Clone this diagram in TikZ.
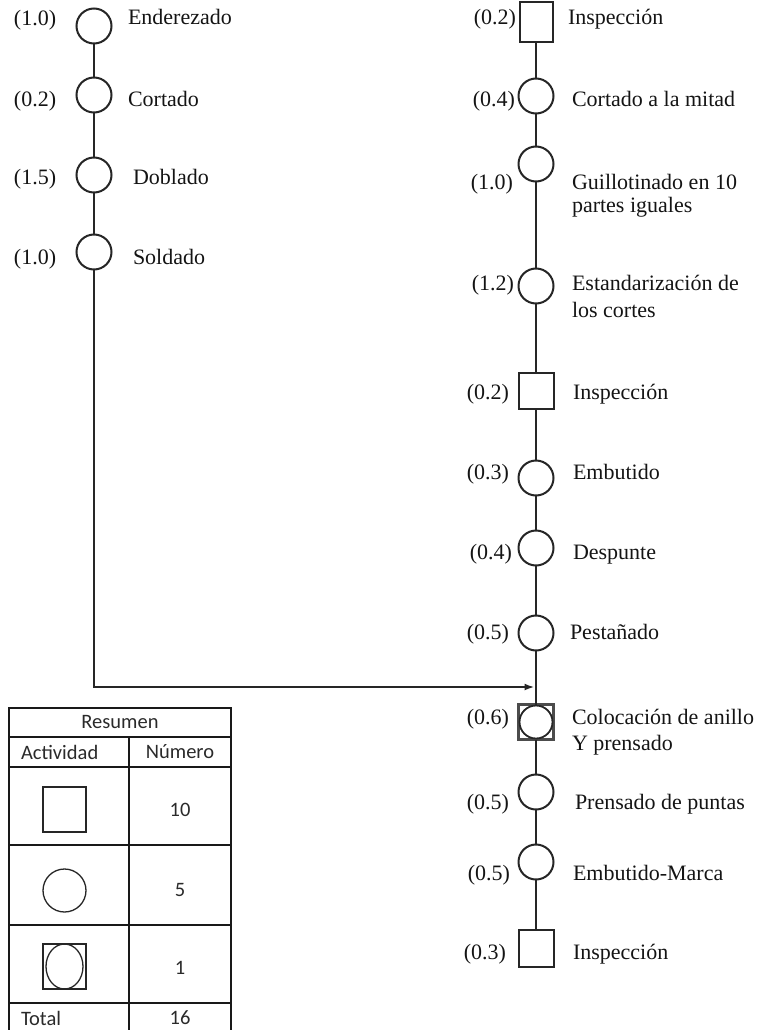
\documentclass[tikz,border=0pt]{standalone}
\usepackage{fontspec}
\setmainfont{Liberation Serif}
\newfontfamily\tabfont{Carlito}
\usetikzlibrary{arrows.meta}
\definecolor{ink}{HTML}{141414}
\definecolor{stroke}{HTML}{262626}
\definecolor{tabink}{HTML}{2A2A2A}
\begin{document}
\begin{tikzpicture}[x=1pt,y=-1pt,
  every node/.style={inner sep=0pt, outer sep=0pt},
  opcircle/.style={draw=stroke, line width=2pt, circle, minimum size=35pt},
  inspbox/.style={draw=stroke, line width=2pt, rectangle, minimum width=35pt, minimum height=36pt},
  combobox/.style={draw=black!70, line width=2.6pt, rectangle, minimum width=35pt, minimum height=35pt},
  flow/.style={draw=stroke, line width=2pt},
  lbl/.style={anchor=base west, text=ink, font=\fontsize{22}{25}\selectfont},
  num/.style={anchor=base east, text=ink, font=\fontsize{22}{25}\selectfont},
  lnum/.style={anchor=base, text=ink, font=\fontsize{22}{25}\selectfont},
  tabline/.style={draw=black!90, line width=1.6pt},
  tabtxt/.style={text=tabink, font=\tabfont\fontsize{20.5}{24}\selectfont},
  tabsym/.style={draw=black!85, line width=1.3pt}
]
\useasboundingbox (0,0) rectangle (763,1030);

% ---- left branch ----
\node[opcircle, minimum width=33pt] (l1) at (94,26) {};
\node[opcircle, minimum width=33pt] (l2) at (94,95) {};
\node[opcircle, minimum width=33pt] (l3) at (94,175) {};
\node[opcircle, minimum width=33pt] (l4) at (94,252) {};
\node[lnum] (ln1) at (35,26) {(1.0)};
\node[lnum] (ln2) at (35,107) {(0.2)};
\node[lnum] (ln3) at (35,184) {(1.5)};
\node[lnum] (ln4) at (35,264) {(1.0)};
\node[lbl] (lt1) at (128,25) {Enderezado};
\node[lbl] (lt2) at (128,107) {Cortado};
\node[lbl] (lt3) at (133,184) {Doblado};
\node[lbl] (lt4) at (133,264) {Soldado};

% ---- main branch ----
\node[inspbox, minimum width=33pt, minimum height=40pt] (r1) at (536,22.5) {};
\node[opcircle] (r2) at (536,96) {};
\node[opcircle] (r3) at (536,164) {};
\node[opcircle] (r4) at (536,286) {};
\node[inspbox] (r5) at (536,391) {};
\node[opcircle] (r6) at (536,478) {};
\node[opcircle] (r7) at (536,548) {};
\node[opcircle] (r8) at (536,633) {};
\node[combobox] (r9) at (536,722) {};
\node[opcircle, minimum size=33pt, line width=1.8pt] (r9c) at (r9) {};
\node[opcircle] (r10) at (536,792) {};
\node[opcircle] (r11) at (536,862) {};
\node[inspbox, minimum height=37pt] (r12) at (536,948) {};

\node[num] (rn1) at (516,25) {(0.2)};
\node[num] (rn2) at (515,107) {(0.4)};
\node[num] (rn3) at (513,189) {(1.0)};
\node[num] (rn4) at (514,290) {(1.2)};
\node[num] (rn5) at (509,399) {(0.2)};
\node[num] (rn6) at (509,479) {(0.3)};
\node[num] (rn7) at (512,559) {(0.4)};
\node[num] (rn8) at (509,639) {(0.5)};
\node[num] (rn9) at (509,724) {(0.6)};
\node[num] (rn10) at (509,809) {(0.5)};
\node[num] (rn11) at (510,880) {(0.5)};
\node[num] (rn12) at (506,959) {(0.3)};

\node[lbl] (rt1) at (568,25) {Inspección};
\node[lbl] (rt2) at (572,107) {Cortado a la mitad};
\node[lbl] (rt3) at (572,189) {\begin{tabular}[t]{@{}l@{}}Guillotinado en 10\\[-2pt]partes iguales\end{tabular}};
\node[lbl] (rt4) at (572,290) {\begin{tabular}[t]{@{}l@{}}Estandarización de\\[2pt]los cortes\end{tabular}};
\node[lbl] (rt5) at (573,399) {Inspección};
\node[lbl] (rt6) at (573,479) {Embutido};
\node[lbl] (rt7) at (573,559) {Despunte};
\node[lbl] (rt8) at (570,639) {Pestañado};
\node[lbl] (rt9) at (572,724) {\begin{tabular}[t]{@{}l@{}}Colocación de anillo\\[1pt]Y prensado\end{tabular}};
\node[lbl] (rt10) at (575,809) {Prensado de puntas};
\node[lbl] (rt11) at (573,880) {Embutido-Marca};
\node[lbl] (rt12) at (573,959) {Inspección};

% ---- connectors ----
\draw[flow] (l1) -- (l2);
\draw[flow] (l2) -- (l3);
\draw[flow] (l3) -- (l4);
\coordinate (join) at (536,687);
\draw[flow, -{Latex[length=10pt,width=7pt]}, shorten >=1.5pt] (l4) |- (join);

\draw[flow] (r1) -- (r2);
\draw[flow] (r2) -- (r3);
\draw[flow] (r3) -- (r4);
\draw[flow] (r4) -- (r5);
\draw[flow] (r5) -- (r6);
\draw[flow] (r6) -- (r7);
\draw[flow] (r7) -- (r8);
\draw[flow] (r8) -- (r9);
\draw[flow] (r9) -- (r10);
\draw[flow] (r10) -- (r11);
\draw[flow] (r11) -- (r12);

% ---- summary table ----
\draw[tabline] (9,1031) -- (9,708) -- (231,708) -- (231,1031);
\foreach \yy in {737,767,845,925,1003} \draw[tabline] (9,\yy) -- (231,\yy);
\draw[tabline] (129,737) -- (129,1031);

\node[tabtxt] (hres) at (120,722) {Resumen};
\node[tabtxt, anchor=west] (hact) at (21,752) {Actividad};
\node[tabtxt] (hnum) at (180,752) {Número};

\node[tabsym, rectangle, minimum width=43pt, minimum height=45pt] (sq) at (64.5,809.5) {};
\node[tabsym, circle, minimum size=43pt] (ci) at (64.5,890.5) {};
\node[tabsym, rectangle, minimum width=43pt, minimum height=45pt] (cb) at (64.5,966.5) {};
\draw[tabsym] (cb.center) ellipse [x radius=18.5, y radius=22.5];

\node[tabtxt] (n1) at (180,810) {10};
\node[tabtxt] (n2) at (180,890) {5};
\node[tabtxt] (n3) at (180,968) {1};
\node[tabtxt, anchor=west] (tot) at (21,1018) {Total};
\node[tabtxt] (ntot) at (180,1018) {16};
\end{tikzpicture}
\end{document}
